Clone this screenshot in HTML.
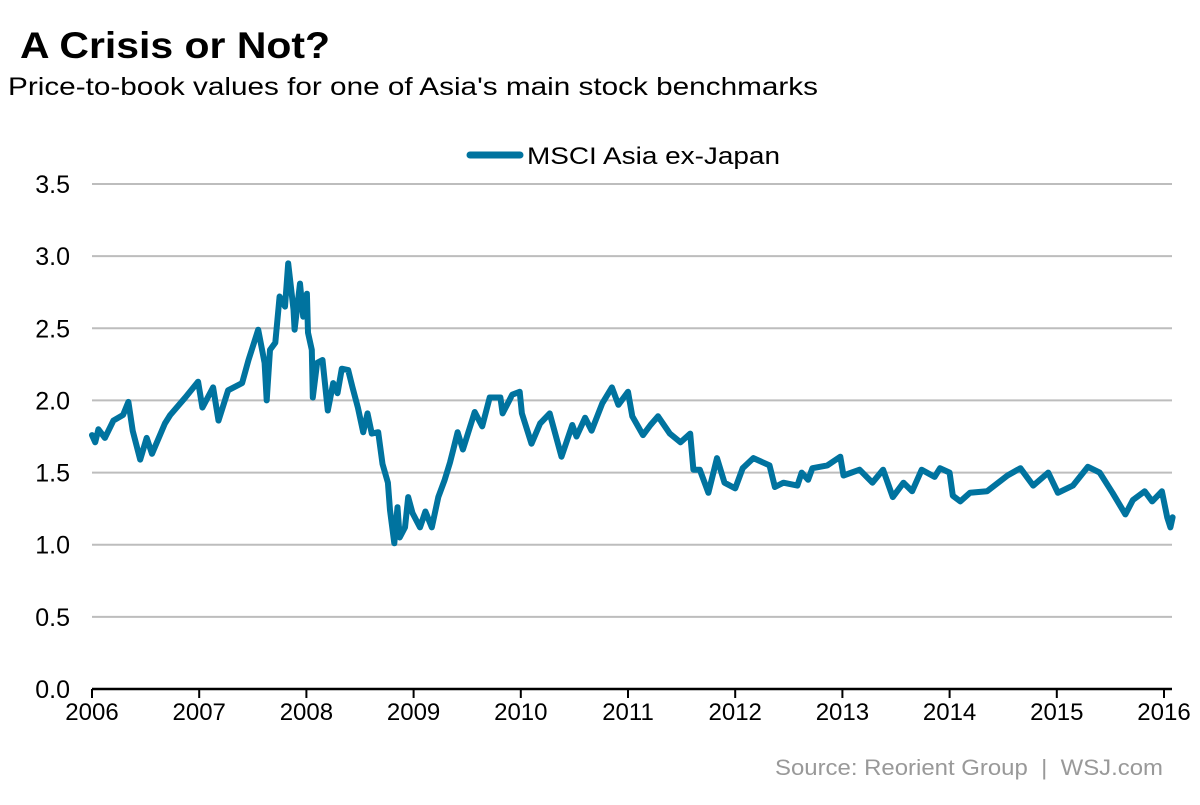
<!DOCTYPE html>
<html><head><meta charset="utf-8"><style>
body{margin:0;background:#fff;width:1200px;height:800px;overflow:hidden;font-family:"Liberation Sans",Arial,sans-serif}
</style></head><body>
<svg width="1200" height="800" xmlns="http://www.w3.org/2000/svg" font-family="Liberation Sans, Arial, sans-serif">
<text x="20" y="58" font-size="37" font-weight="bold" fill="#000" textLength="310" lengthAdjust="spacingAndGlyphs">A Crisis or Not?</text>
<text x="8" y="95" font-size="25" fill="#000" textLength="810" lengthAdjust="spacingAndGlyphs">Price-to-book values for one of Asia's main stock benchmarks</text>
<g>
<line x1="470" y1="155" x2="520" y2="155" stroke="#00739f" stroke-width="7" stroke-linecap="round"/>
<text x="527" y="164" font-size="24" fill="#000" textLength="253" lengthAdjust="spacingAndGlyphs">MSCI Asia ex-Japan</text>
</g>
<g id="grid"></g>
<g id="yticks"></g>
<g id="xaxis"></g>
<path id="series" fill="none" stroke="#00739f" stroke-width="6" stroke-linejoin="round" stroke-linecap="round"/>
<text x="1163" y="775" font-size="22" fill="#999" text-anchor="end" textLength="388" lengthAdjust="spacingAndGlyphs">Source: Reorient Group&#160;&#160;|&#160;&#160;WSJ.com</text>
</svg>
<script>
const yTicks=[0,0.5,1,1.5,2,2.5,3,3.5];
const yTickLabels=["0.0","0.5","1.0","1.5","2.0","2.5","3.0","3.5"];
const xYears=[2006,2007,2008,2009,2010,2011,2012,2013,2014,2015,2016];
const dates=[2006.00,2006.03,2006.06,2006.12,2006.20,2006.29,2006.34,2006.38,2006.45,2006.51,2006.56,2006.68,2006.73,2006.87,2006.99,
2007.03,2007.13,2007.18,2007.27,2007.40,2007.46,2007.55,2007.61,2007.63,2007.66,2007.71,2007.75,2007.80,2007.83,2007.88,2007.89,2007.94,2007.97,
2008.005,2008.015,2008.05,2008.06,2008.10,2008.15,2008.20,2008.25,2008.29,2008.33,2008.39,2008.43,2008.48,2008.53,2008.57,2008.61,2008.67,2008.71,2008.76,2008.78,2008.82,2008.85,2008.87,2008.92,2008.95,2008.99,
2009.06,2009.11,2009.17,2009.23,2009.29,2009.34,2009.37,2009.41,2009.46,2009.57,2009.64,2009.71,2009.81,2009.83,2009.92,2009.99,
2010.01,2010.10,2010.18,2010.27,2010.38,2010.48,2010.52,2010.60,2010.66,2010.76,2010.85,2010.91,
2011.00,2011.04,2011.14,2011.21,2011.28,2011.39,2011.49,2011.58,2011.61,2011.67,2011.75,2011.83,2011.90,
2012.00,2012.07,2012.17,2012.32,2012.37,2012.45,2012.58,2012.62,2012.68,2012.72,2012.86,2012.98,
2013.01,2013.16,2013.28,2013.38,2013.47,2013.57,2013.65,2013.74,2013.86,2013.91,
2014.00,2014.03,2014.10,2014.19,2014.35,2014.54,2014.66,2014.78,2014.92,
2015.01,2015.15,2015.29,2015.40,2015.52,2015.64,2015.71,2015.82,2015.89,2015.98,
2016.03,2016.06,2016.08];
const values=[1.76,1.71,1.80,1.74,1.86,1.90,1.99,1.79,1.59,1.74,1.63,1.84,1.90,2.02,2.13,
1.95,2.09,1.86,2.07,2.12,2.28,2.49,2.26,2.00,2.35,2.40,2.72,2.65,2.95,2.63,2.49,2.81,2.58,
2.74,2.47,2.35,2.02,2.26,2.28,1.93,2.12,2.05,2.22,2.21,2.09,1.95,1.78,1.91,1.77,1.78,1.56,1.43,1.24,1.01,1.26,1.05,1.12,1.33,1.22,
1.12,1.23,1.12,1.33,1.45,1.57,1.66,1.78,1.66,1.92,1.82,2.02,2.02,1.91,2.04,2.06,
1.91,1.70,1.84,1.91,1.61,1.83,1.75,1.88,1.79,1.98,2.09,1.97,
2.06,1.89,1.76,1.83,1.89,1.77,1.71,1.77,1.52,1.52,1.36,1.60,1.43,
1.39,1.53,1.60,1.55,1.40,1.43,1.41,1.50,1.45,1.53,1.55,1.61,
1.48,1.52,1.43,1.52,1.33,1.43,1.37,1.52,1.47,1.53,
1.50,1.34,1.30,1.36,1.37,1.48,1.53,1.41,1.50,
1.36,1.41,1.54,1.50,1.36,1.21,1.31,1.37,1.30,1.37,
1.19,1.12,1.19];
const X0=92,X1=1164,Y0=689,Y1=184;
function xs(t){return X0+(t-2006)/(2016-2006)*(X1-X0);}
function ys(v){return Y0-(v/3.5)*(Y0-Y1);}
const NS="http://www.w3.org/2000/svg";
const grid=document.getElementById('grid'),yt=document.getElementById('yticks'),xa=document.getElementById('xaxis');
yTicks.forEach((v,i)=>{
 if(v>0){const l=document.createElementNS(NS,'line');
 
 
 l.setAttribute('x1',X0);l.setAttribute('x2',1172);l.setAttribute('y1',ys(v));l.setAttribute('y2',ys(v));
 l.setAttribute('stroke','#bdbdbd');l.setAttribute('stroke-width','2');grid.appendChild(l);}
 const t=document.createElementNS(NS,'text');
 
 
 t.setAttribute('x',70);t.setAttribute('y',ys(v)+9);t.setAttribute('text-anchor','end');t.setAttribute('font-size','25');
 t.textContent=yTickLabels[i];yt.appendChild(t);
});
const ax=document.createElementNS(NS,'line');


ax.setAttribute('x1',X0);ax.setAttribute('x2',1172);ax.setAttribute('y1',Y0);ax.setAttribute('y2',Y0);
ax.setAttribute('stroke','#000');ax.setAttribute('stroke-width','2.5');xa.appendChild(ax);
xYears.forEach(yr=>{
 const l=document.createElementNS(NS,'line');
 
 
 l.setAttribute('x1',xs(yr));l.setAttribute('x2',xs(yr));l.setAttribute('y1',Y0);l.setAttribute('y2',Y0+9);
 l.setAttribute('stroke','#000');l.setAttribute('stroke-width','2');xa.appendChild(l);
 const t=document.createElementNS(NS,'text');
 
 
 t.setAttribute('x',xs(yr));t.setAttribute('y',Y0+31);t.setAttribute('text-anchor','middle');t.setAttribute('font-size','24');
 t.textContent=yr;xa.appendChild(t);
});
let d='';
dates.forEach((t,i)=>{d+=(i?'L':'M')+xs(t).toFixed(1)+' '+ys(values[i]).toFixed(1);});
document.getElementById('series').setAttribute('d',d);
</script>
</body></html>
